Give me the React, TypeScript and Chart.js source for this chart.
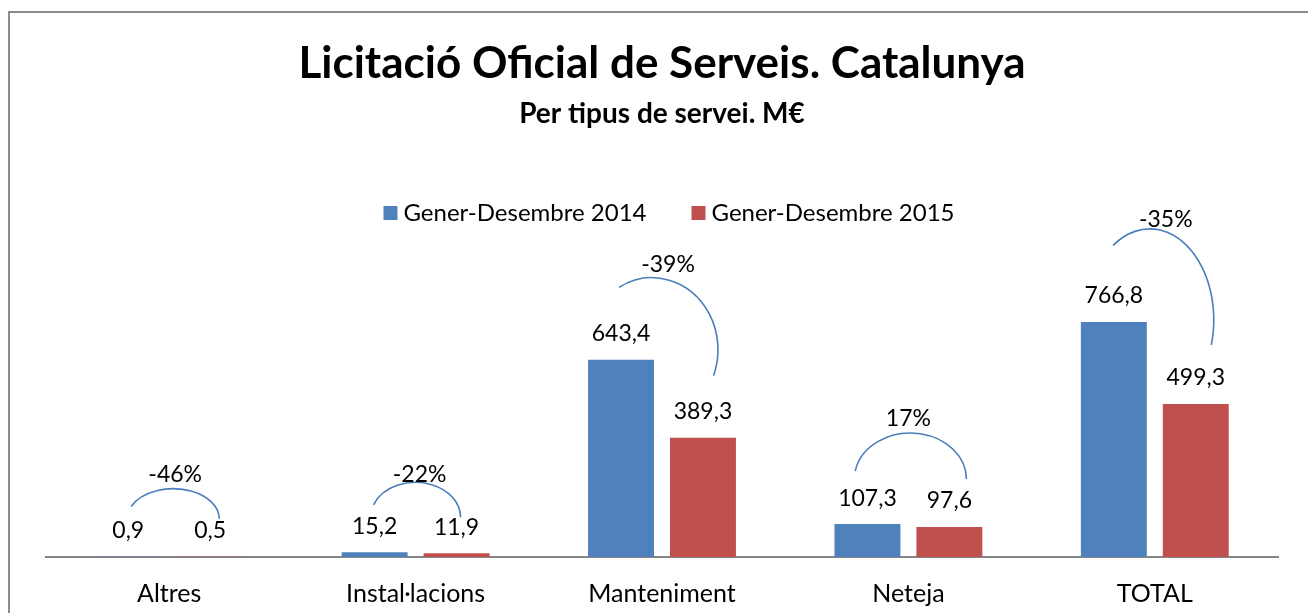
import React, { useEffect, useRef } from "react";
import { Chart, registerables } from "chart.js";

Chart.register(...registerables);

// ---- data ----
const categories = ["Altres", "Instal·lacions", "Manteniment", "Neteja", "TOTAL"];
const series2014 = [0.9, 15.2, 643.4, 107.3, 766.8];
const series2015 = [0.5, 11.9, 389.3, 97.6, 499.3];
const seriesLabels = ["Gener-Desembre 2014", "Gener-Desembre 2015"];
const changeLabels = ["-46%", "-22%", "-39%", "17%", "-35%"];
const titleText = "Licitació Oficial de Serveis. Catalunya";
const subtitleText = "Per tipus de servei. M€";

// ---- styles ----
const FONT = "Lato, 'Noto Sans', sans-serif";
const BLUE = "#4F81BD";
const RED = "#C0504D";
const ARC_COLOR = "#4A7EBB";
const AXIS_COLOR = "#868686";

// hand-drawn arc annotations: offsets in px relative to the category centre
// and the top of the taller bar of the category
const arcShapes = [
  { dx: 4, dy: -38, rx: 46, ry: 30, a0: 204, a1: 360, tdx: 2, tdy: -14 },
  { dx: 0, dy: -35, rx: 45, ry: 35, a0: 201, a1: 360, tdx: 4, tdy: -8 },
  { dx: -10, dy: -10, rx: 66, ry: 72, a0: 240, a1: 381, tdx: 16, tdy: -13 },
  { dx: 2, dy: -45, rx: 56, ry: 46, a0: 190, a1: 360, tdx: -2, tdy: -15 },
  { dx: -5, dy: -2, rx: 64, ry: 91, a0: 235, a1: 376, tdx: 16, tdy: -9 },
];

const fmt = (v: number) => v.toFixed(1).replace(".", ",");

const annotatePlugin = {
  id: "annotate",
  beforeDraw(chart: any) {
    const ctx = chart.ctx;
    ctx.save();
    ctx.fillStyle = "#ffffff";
    ctx.fillRect(0, 0, chart.width, chart.height);
    ctx.strokeStyle = "#8c8c8c";
    ctx.lineWidth = 2;
    ctx.strokeRect(9, 12, chart.width + 50, chart.height + 50);
    ctx.restore();
  },
  afterDatasetsDraw(chart: any) {
    const ctx = chart.ctx;
    const xs = chart.scales.x;
    const ys = chart.scales.y;
    ctx.save();
    ctx.fillStyle = "#000";
    ctx.textAlign = "center";
    ctx.textBaseline = "middle";
    ctx.font = `23px ${FONT}`;
    chart.data.datasets.forEach((ds: any, di: number) => {
      const meta = chart.getDatasetMeta(di);
      meta.data.forEach((bar: any, i: number) => {
        ctx.fillText(fmt(ds.data[i]), bar.x, bar.y - 26);
      });
    });

    // arcs with change labels
    categories.forEach((_c, i) => {
      const cx = xs.getPixelForValue(i);
      const top = ys.getPixelForValue(Math.max(series2014[i], series2015[i]));
      const s = arcShapes[i];
      const ex = cx + s.dx;
      const ey = top + s.dy;
      ctx.beginPath();
      ctx.strokeStyle = ARC_COLOR;
      ctx.lineWidth = 1.6;
      ctx.ellipse(ex, ey, s.rx, s.ry, 0, (s.a0 * Math.PI) / 180, (s.a1 * Math.PI) / 180);
      ctx.stroke();
      ctx.fillStyle = "#000";
      ctx.font = `23px ${FONT}`;
      ctx.fillText(changeLabels[i], ex + s.tdx, ey - s.ry + s.tdy);
    });

    // legend
    ctx.font = `24px ${FONT}`;
    ctx.textAlign = "left";
    const box = 14;
    const gapText = 6;
    const gapItem = 45;
    const colors = [BLUE, RED];
    const widths = seriesLabels.map((t) => ctx.measureText(t).width);
    const total = widths.reduce((a, w) => a + box + gapText + w, 0) + gapItem;
    let x = (chart.chartArea.left + chart.chartArea.right) / 2 + 7 - total / 2;
    const ly = 213;
    seriesLabels.forEach((t, i) => {
      ctx.fillStyle = colors[i];
      ctx.fillRect(x, ly - box / 2, box, box);
      ctx.fillStyle = "#000";
      ctx.fillText(t, x + box + gapText, ly);
      x += box + gapText + widths[i] + gapItem;
    });
    ctx.restore();
  },
};

export default function App() {
  const ref = useRef<HTMLCanvasElement>(null);
  useEffect(() => {
    const chart = new Chart(ref.current as HTMLCanvasElement, {
      type: "bar",
      data: {
        labels: categories,
        datasets: [
          {
            label: seriesLabels[0],
            data: series2014,
            backgroundColor: BLUE,
            categoryPercentage: 0.665,
            barPercentage: 0.805,
          },
          {
            label: seriesLabels[1],
            data: series2015,
            backgroundColor: RED,
            categoryPercentage: 0.665,
            barPercentage: 0.805,
          },
        ],
      },
      options: {
        responsive: false,
        animation: false,
        devicePixelRatio: 1,
        layout: { padding: { left: 46, right: 30, top: 0, bottom: -18 } },
        plugins: {
          legend: { display: false },
          tooltip: { enabled: false },
          title: {
            display: true,
            text: titleText,
            color: "#000",
            font: { family: FONT, size: 44, weight: "bold" },
            padding: { top: 37, bottom: 0 },
          },
          subtitle: {
            display: true,
            text: subtitleText,
            color: "#000",
            font: { family: FONT, size: 28, weight: "bold" },
            padding: { top: 7, bottom: 120 },
          },
        },
        scales: {
          x: {
            grid: { display: false, drawTicks: false },
            border: { display: true, color: AXIS_COLOR, width: 2 },
            ticks: { color: "#000", font: { family: FONT, size: 25 }, padding: 22 },
          },
          y: { display: false, min: 0, max: 1000 },
        },
      },
      plugins: [annotatePlugin],
    });
    return () => chart.destroy();
  }, []);
  return (
    <div style={{ position: "absolute", left: 0, top: 0, width: 1308, height: 613, background: "#fff" }}>
      <canvas ref={ref} width={1308} height={613} style={{ display: "block" }} />
    </div>
  );
}
